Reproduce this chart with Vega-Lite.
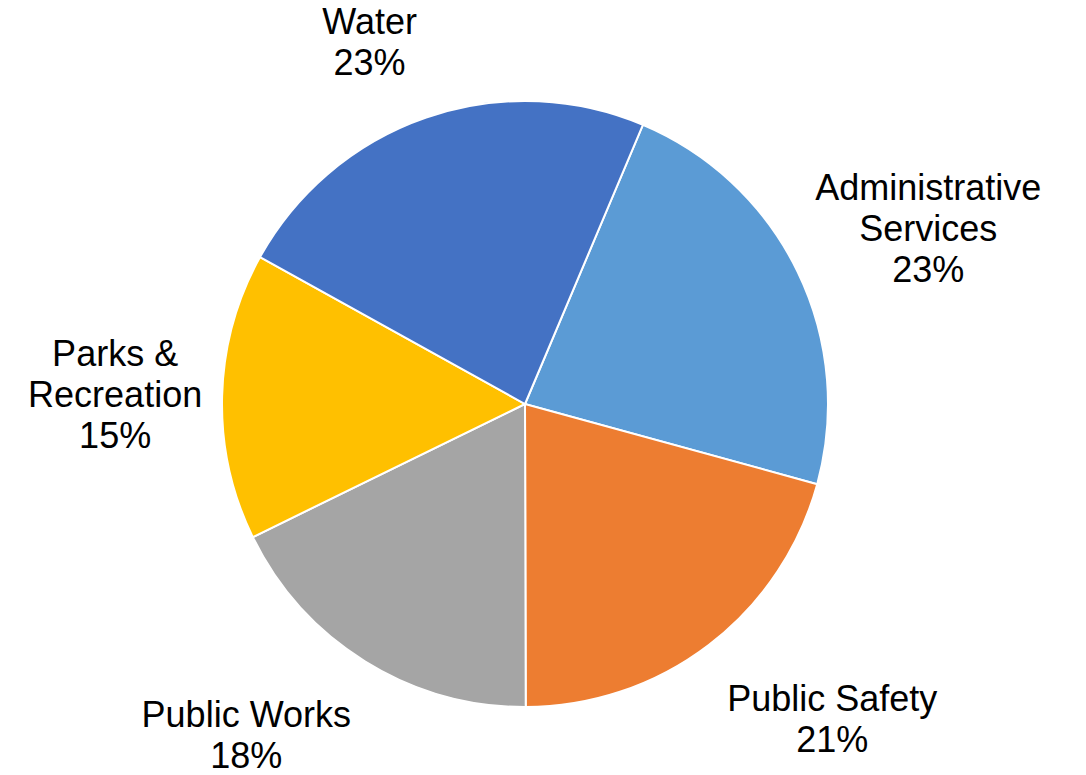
{
  "$schema": "https://vega.github.io/schema/vega-lite/v6.json",
  "width": 1050,
  "height": 742,
  "autosize": {"type": "none"},
  "padding": {"left": 0, "right": 36, "top": 33, "bottom": 0},
  "background": "white",
  "config": {"view": {"stroke": null}},
  "data": {
    "values": [
      {"category": "Administrative Services", "label": "Administrative\nServices\n23%", "value": 22.9, "idx": 1},
      {"category": "Public Safety", "label": "Public Safety\n21%", "value": 20.7, "idx": 2},
      {"category": "Public Works", "label": "Public Works\n18%", "value": 17.8, "idx": 3},
      {"category": "Parks & Recreation", "label": "Parks &\nRecreation\n15%", "value": 15.3, "idx": 4},
      {"category": "Water", "label": "Water\n23%", "value": 23.3, "idx": 5}
    ]
  },
  "encoding": {
    "theta": {"field": "value", "type": "quantitative", "stack": true, "scale": {"range": [0.3997, 6.6829]}},
    "order": {"field": "idx", "type": "quantitative"}
  },
  "layer": [
    {
      "mark": {"type": "arc", "outerRadius": 303, "stroke": "white", "strokeWidth": 2},
      "encoding": {
        "color": {
          "field": "category",
          "type": "nominal",
          "legend": null,
          "scale": {
            "domain": ["Administrative Services", "Public Safety", "Public Works", "Parks & Recreation", "Water"],
            "range": ["#5B9BD5", "#ED7D31", "#A5A5A5", "#FFC000", "#4472C4"]
          }
        }
      }
    },
    {
      "mark": {
        "type": "text",
        "font": "Liberation Sans",
        "fontSize": 36,
        "lineHeight": 41,
        "lineBreak": "\n",
        "align": "center",
        "baseline": "middle",
        "color": "black",
        "radius": {"expr": "datum.category === 'Water' ? 412 : datum.category === 'Administrative Services' ? 457 : datum.category === 'Public Safety' ? 422 : datum.category === 'Public Works' ? 412 : 411"},
        "dx": {"expr": "datum.category === 'Water' ? -21 : datum.category === 'Administrative Services' ? -8 : datum.category === 'Public Safety' ? 51 : datum.category === 'Public Works' ? -61 : 1"},
        "dy": {"expr": "datum.category === 'Water' ? 8 : datum.category === 'Administrative Services' ? -16 : datum.category === 'Public Safety' ? -39 : datum.category === 'Public Works' ? -38 : -38"}
      },
      "encoding": {
        "text": {"field": "label", "type": "nominal"}
      }
    }
  ]
}
